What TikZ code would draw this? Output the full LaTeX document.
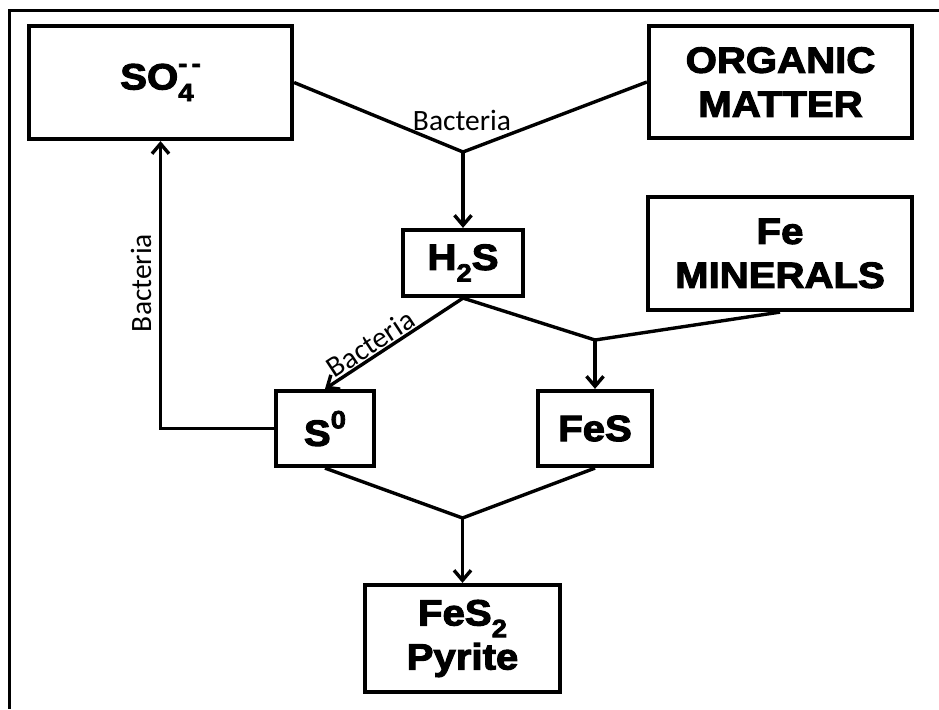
\documentclass[tikz,border=0pt]{standalone}
\usepackage{fontspec}
\setmainfont{Liberation Sans}
\newfontfamily\heavy{Liberation Sans Bold}[FakeBold=3,FakeStretch=1.1]
\newfontfamily\calib{Carlito}
\usetikzlibrary{arrows.meta}
\newcommand{\chsub}[1]{\raisebox{-0.32em}{\fontsize{25}{25}\selectfont #1}}
\newcommand{\chsup}[1]{\raisebox{0.48em}{\fontsize{25}{25}\selectfont #1}}
\begin{document}
\begin{tikzpicture}[x=1pt,y=-1pt,
  box/.style={draw, line width=4.2pt, inner sep=0pt, align=center,
    font=\heavy\fontsize{36.5}{44}\selectfont},
  conn/.style={line width=3.4pt},
  arr/.style={conn, -{Straight Barb[length=10pt,width=17pt]}},
  lbl/.style={font=\calib\fontsize{29.5}{30}\selectfont, inner sep=1pt},
  frame/.style={line width=3pt}]
\useasboundingbox (0,0) rectangle (939,709);
% outer frame (top and left edges visible)
\coordinate (fTR) at (939,11);
\coordinate (fTL) at (9,11);
\coordinate (fBL) at (9,709);
\draw[frame] (fTR) -- (fTL) -- (fBL);
% boxes
\node[box, minimum width=263pt, minimum height=113pt] (so4) at (160.5,82.5) {SO\rlap{\chsub{4}}\chsup{{-}\,{-}}};
\node[box, minimum width=263pt, minimum height=112pt] (org) at (780.5,82) {ORGANIC\\MATTER};
\node[box, minimum width=120pt, minimum height=66pt] (h2s) at (463,263) {H\chsub{2}S};
\node[box, minimum width=264pt, minimum height=113pt] (fem) at (780,253.5) {Fe\\MINERALS};
\node[box, minimum width=98pt, minimum height=75pt] (s0) at (325,428.5) {S\chsup{\mdseries 0}};
\node[box, minimum width=114pt, minimum height=75pt] (fes) at (595,428.5) {FeS};
\node[box, minimum width=195pt, minimum height=107pt] (fes2) at (462.5,638.5) {FeS\chsub{2}\\Pyrite};
% junctions
\coordinate (j1) at (463,152);
\coordinate (j2) at (595,340);
\coordinate (j3) at (462.5,518);
% connectors
\draw[conn] (so4.east) -- (j1) -- (org.west);
\draw[arr] (j1) -- (h2s.north);
\node[lbl, anchor=base] (bac1) at (462,130) {Bacteria};
\draw[conn] (h2s.south) -- (j2) -- (fem.south);
\draw[arr] (j2) -- (fes.north);
\draw[arr] (h2s.south) -- node[lbl, sloped, above, pos=0.62] (bac2) {Bacteria} (s0.north);
\draw[arr] (s0.west) -| (so4.south);
\node[lbl, rotate=90] (bac3) at (141,283) {Bacteria};
\draw[conn] (s0.south) -- (j3) -- (fes.south);
\draw[arr] (j3) -- (fes2.north);
\end{tikzpicture}
\end{document}
